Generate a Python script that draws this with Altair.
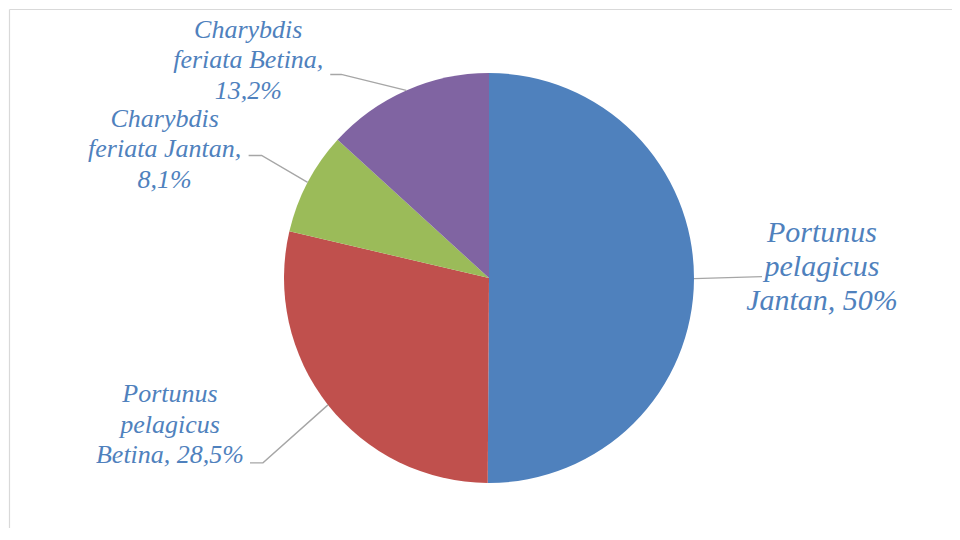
import math
import altair as alt
import pandas as pd

# ---------------- data ----------------
species = [
    "Portunus pelagicus Jantan",
    "Portunus pelagicus Betina",
    "Charybdis feriata Jantan",
    "Charybdis feriata Betina",
]
percent = [50.0, 28.5, 8.1, 13.2]
label_lines = [
    ["Portunus", "pelagicus", "Jantan, 50%"],
    ["Portunus", "pelagicus", "Betina, 28,5%"],
    ["Charybdis", "feriata Jantan,", "8,1%"],
    ["Charybdis", "feriata Betina,", "13,2%"],
]

# ---------------- style / layout ----------------
colors = ["#4F81BD", "#C0504D", "#9BBB59", "#8064A2"]
TEXT_COLOR = "#4F81BD"
LEADER_COLOR = "#A6A6A6"
FONT = "Liberation Serif"
W, H = 944, 520
CX, CY, R = 481, 270, 205
# label placement relative to the slice's mid-angle edge point (manual, like the original)
text_off = [(128, -46), (-158, -10.5), (-143, -63.5), (-158, -60.5)]
elbow_off = [(68, -2), (-65, 58), (-46, -27), (-65, -16)]
tail_len = [0, -13, -13, -11]
big_label = [True, False, False, False]
LINE_H = {True: 34, False: 30.5}

# ---------------- derived tables ----------------
total = sum(percent)
pie_df = pd.DataFrame({"species": species, "percent": percent, "order": list(range(len(species)))})

text_rows, line_rows = [], []
cum = 0.0
for i, (s, p) in enumerate(zip(species, percent)):
    mid = (cum + p / 2) / total * 2 * math.pi
    cum += p
    ex = CX + R * math.sin(mid)
    ey = CY - R * math.cos(mid)
    tx, ty = ex + text_off[i][0], ey + text_off[i][1]
    bx, by = ex + elbow_off[i][0], ey + elbow_off[i][1]
    for k, line in enumerate(label_lines[i]):
        text_rows.append({"species": s, "label": line, "x": tx,
                          "y": ty + k * LINE_H[big_label[i]], "big": big_label[i]})
    line_rows += [
        {"species": s, "pt": 0, "x": ex, "y": ey},
        {"species": s, "pt": 1, "x": bx, "y": by},
        {"species": s, "pt": 2, "x": bx + tail_len[i], "y": by},
    ]
text_df = pd.DataFrame(text_rows)
line_df = pd.DataFrame(line_rows)

xs = alt.Scale(domain=[0, W], nice=False, zero=False)
ys = alt.Scale(domain=[0, H], nice=False, zero=False, reverse=True)

pie = alt.Chart(pie_df).mark_arc(radius=R).encode(
    theta=alt.Theta("percent:Q", stack=True),
    color=alt.Color("species:N", scale=alt.Scale(domain=species, range=colors), legend=None),
    order=alt.Order("order:Q"),
    x=alt.value(CX),
    y=alt.value(CY),
)

leaders = alt.Chart(line_df).mark_line(color=LEADER_COLOR, strokeWidth=1.4).encode(
    x=alt.X("x:Q", scale=xs, axis=None),
    y=alt.Y("y:Q", scale=ys, axis=None),
    detail="species:N",
    order=alt.Order("pt:Q"),
)

small_text = alt.Chart(text_df).transform_filter("!datum.big").mark_text(
    fontSize=26, align="center", baseline="middle", font=FONT,
    fontStyle="italic", color=TEXT_COLOR,
).encode(x=alt.X("x:Q", scale=xs, axis=None), y=alt.Y("y:Q", scale=ys, axis=None), text="label:N")
big_text = alt.Chart(text_df).transform_filter("datum.big").mark_text(
    fontSize=30, align="center", baseline="middle", font=FONT,
    fontStyle="italic", color=TEXT_COLOR,
).encode(x=alt.X("x:Q", scale=xs, axis=None), y=alt.Y("y:Q", scale=ys, axis=None), text="label:N")

# chart border (only left and top edges fall inside the picture)
border_df = pd.DataFrame({"x": [1.5, 1.5], "y": [H + 20, 1.5], "x2": [1.5, W + 20], "y2": [1.5, 1.5]})
border = alt.Chart(border_df).mark_rule(color="#D9D9D9", strokeWidth=1.2, clip=False).encode(
    x=alt.X("x:Q", scale=xs, axis=None), y=alt.Y("y:Q", scale=ys, axis=None),
    x2="x2:Q", y2="y2:Q",
)

chart = (
    alt.layer(border, pie, leaders, small_text, big_text)
    .properties(width=W, height=H, padding=0, autosize=alt.AutoSizeParams(type="none"),
                background="white")
    .configure(font=FONT)
    .configure_text(font=FONT, fontStyle="italic")
    .configure_view(stroke=None)
)

chart.save("out.html", embed_options={"renderer": "svg", "actions": False})
